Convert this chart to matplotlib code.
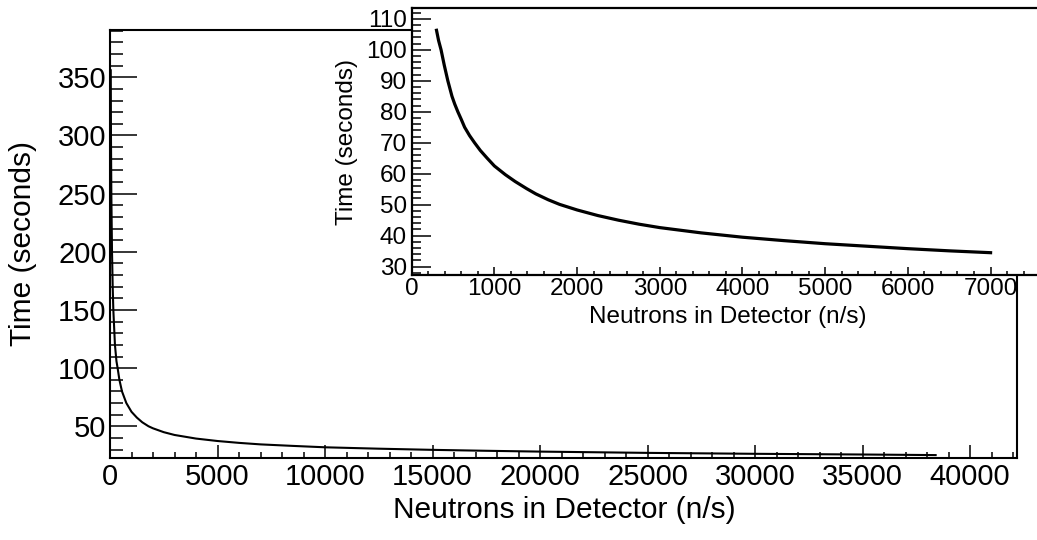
import matplotlib
matplotlib.use("Agg")
import matplotlib.pyplot as plt
from matplotlib.ticker import MultipleLocator

plt.rcParams['font.family'] = ['Liberation Sans', 'DejaVu Sans']

# ---- data ----
main_rate = [35, 45, 62, 93, 125, 155, 230, 300, 355, 437, 558, 760, 1000, 1250,
             1500, 1788, 2000, 2500, 3000, 4000, 5000, 6000, 7000, 8500, 10000,
             12500, 15000, 17500, 20000, 25000, 30000, 35000, 38400]
main_time = [356, 300, 250, 200, 170, 150, 120, 106, 100, 90, 80, 70, 62.5, 57.5,
             53.5, 50.1, 48.3, 45.0, 42.6, 39.5, 37.4, 35.8, 34.5, 33.2, 32.0,
             30.8, 29.8, 29.0, 28.3, 27.2, 26.4, 25.8, 25.3]

inset_rate = [300, 325, 355, 394, 437, 487, 520, 558, 600, 640, 700, 760, 830, 913,
              1000, 1132, 1250, 1389, 1500, 1650, 1788, 2000, 2250, 2500, 2750,
              3000, 3500, 4000, 4500, 5000, 5500, 6000, 6500, 7000]
inset_time = [106.3, 103, 100, 95, 90, 85, 82.5, 80, 77.5, 75, 72.3, 70, 67.5, 65,
              62.5, 59.7, 57.5, 55.2, 53.5, 51.6, 50.1, 48.3, 46.5, 45.0, 43.7,
              42.6, 40.9, 39.5, 38.4, 37.4, 36.6, 35.8, 35.1, 34.5]

main_xticks = [0, 5000, 10000, 15000, 20000, 25000, 30000, 35000, 40000]
main_yticks = [50, 100, 150, 200, 250, 300, 350]
inset_xticks = [0, 1000, 2000, 3000, 4000, 5000, 6000, 7000]
inset_yticks = [30, 40, 50, 60, 70, 80, 90, 100, 110]

x_title = "Neutrons in Detector (n/s)"
y_title = "Time (seconds)"

W, H = 1037, 540
fig = plt.figure(figsize=(W / 100, H / 100), dpi=100)

def px_axes(l, t, r, b):
    return [l / W, 1 - b / H, (r - l) / W, (b - t) / H]

# ---- main axes ----
ax = fig.add_axes(px_axes(110, 30, 1016.7, 458))
ax.plot(main_rate, main_time, color='black', lw=1.5)
ax.set_xlim(0, 42170)
ax.set_ylim(22.8, 390.6)
ax.set_xticks(main_xticks)
ax.set_yticks(main_yticks)
ax.xaxis.set_minor_locator(MultipleLocator(1000))
ax.yaxis.set_minor_locator(MultipleLocator(10))
ax.tick_params(axis='y', which='major', direction='in', length=19.2, width=1.1,
               labelsize=21, pad=2.5)
ax.tick_params(axis='y', which='minor', direction='in', length=9.6, width=1.1)
ax.tick_params(axis='x', which='major', direction='in', length=9.1, width=1.1,
               labelsize=21, pad=3.5)
ax.tick_params(axis='x', which='minor', direction='in', length=4.3, width=1.1)
for s in ax.spines.values():
    s.set_linewidth(1.5)
fig.text(564 / W, 1 - 510 / H, x_title, fontsize=21.5, ha='center', va='center')
fig.text(23 / W, 1 - 244 / H, y_title, fontsize=21.5, ha='center', va='center',
         rotation=90)

# ---- inset axes ----
axi = fig.add_axes(px_axes(411.7, 8.3, 1044, 275))
axi.set_facecolor('white')
axi.plot(inset_rate, inset_time, color='black', lw=2.3)
axi.set_xlim(0, 7646)
axi.set_ylim(27.3, 113.4)
axi.set_xticks(inset_xticks)
axi.set_yticks(inset_yticks)
axi.xaxis.set_minor_locator(MultipleLocator(200))
axi.yaxis.set_minor_locator(MultipleLocator(2))
axi.tick_params(axis='y', which='major', direction='in', length=13.7, width=1.1,
                labelsize=17.5, pad=3.6)
axi.tick_params(axis='y', which='minor', direction='in', length=6.5, width=1.1)
axi.tick_params(axis='x', which='major', direction='in', length=6, width=1.1,
                labelsize=17.5, pad=2)
axi.tick_params(axis='x', which='minor', direction='in', length=2.9, width=1.1)
for s in axi.spines.values():
    s.set_linewidth(1.6)
fig.text(728 / W, 1 - 316.5 / H, x_title, fontsize=17.5, ha='center', va='center')
fig.text(347 / W, 1 - 142 / H, y_title, fontsize=17.5, ha='center', va='center',
         rotation=90)

fig.savefig("out.png", dpi=100)
